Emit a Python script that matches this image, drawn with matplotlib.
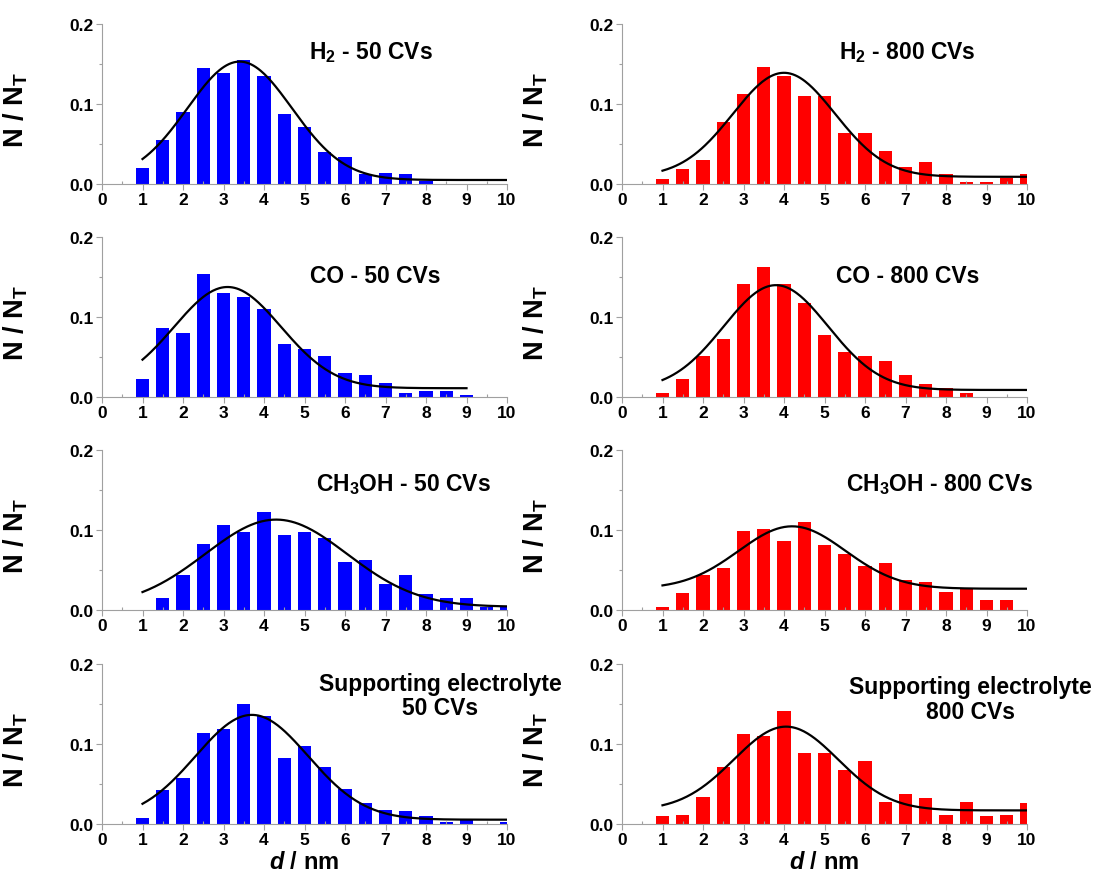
import numpy as np
import matplotlib
matplotlib.use("Agg")
import matplotlib.pyplot as plt
from matplotlib.ticker import MultipleLocator, FixedLocator

plt.rcParams['font.family'] = ['Liberation Sans', 'DejaVu Sans']
plt.rcParams['font.weight'] = 'bold'
plt.rcParams['mathtext.fontset'] = 'custom'
plt.rcParams['mathtext.rm'] = 'Liberation Sans:bold'
plt.rcParams['mathtext.bf'] = 'Liberation Sans:bold'
plt.rcParams['mathtext.it'] = 'Liberation Sans:italic:bold'

# particle diameter bins (nm)
d_bins = [1.0, 1.5, 2.0, 2.5, 3.0, 3.5, 4.0, 4.5, 5.0, 5.5, 6.0, 6.5,
          7.0, 7.5, 8.0, 8.5, 9.0, 9.5, 10.0]

# N / N_T histograms
h2_50 = [0.020, 0.055, 0.090, 0.145, 0.139, 0.155, 0.135, 0.0875, 0.071,
         0.040, 0.034, 0.012, 0.014, 0.013, 0.004]
h2_800 = [0.006, 0.019, 0.030, 0.078, 0.1125, 0.146, 0.135, 0.110, 0.110,
          0.064, 0.064, 0.041, 0.021, 0.0275, 0.012, 0.003, 0.003, 0.008, 0.012]
co_50 = [0.023, 0.086, 0.080, 0.154, 0.130, 0.125, 0.110, 0.066, 0.060,
         0.051, 0.030, 0.0275, 0.017, 0.005, 0.008, 0.008, 0.002]
co_800 = [0.005, 0.0225, 0.051, 0.0725, 0.141, 0.162, 0.141, 0.118, 0.078,
          0.056, 0.051, 0.045, 0.0275, 0.016, 0.011, 0.005]
meoh_50 = [0.0, 0.0154, 0.0436, 0.082, 0.106, 0.098, 0.122, 0.094, 0.098,
           0.090, 0.060, 0.062, 0.032, 0.0436, 0.020, 0.0154, 0.0154, 0.004, 0.004]
meoh_800 = [0.004, 0.0216, 0.0436, 0.0527, 0.099, 0.1017, 0.086, 0.110, 0.081,
            0.070, 0.055, 0.059, 0.037, 0.035, 0.022, 0.0266, 0.013, 0.013]
se_50 = [0.008, 0.042, 0.057, 0.114, 0.119, 0.150, 0.135, 0.082, 0.098,
         0.071, 0.044, 0.0267, 0.018, 0.016, 0.010, 0.002, 0.0046, 0.0, 0.002]
se_800 = [0.010, 0.0117, 0.034, 0.071, 0.112, 0.110, 0.141, 0.089, 0.089,
          0.067, 0.079, 0.028, 0.038, 0.032, 0.0117, 0.028, 0.010, 0.0117, 0.026]

# Gaussian fits: baseline y0, centre xc, amplitude A, sigma, fit range end
fit_y0 = [0.005, 0.009, 0.011, 0.0088, 0.004, 0.0266, 0.0054, 0.017]
fit_xc = [3.4, 4.0, 3.1, 3.8, 4.3, 4.2, 3.7, 4.05]
fit_A = [0.148, 0.130, 0.1265, 0.131, 0.109, 0.078, 0.131, 0.1047]
fit_sigma = [1.29, 1.26, 1.32, 1.29, 1.75, 1.32, 1.39, 1.29]
fit_end = [10, 10, 9, 10, 10, 10, 10, 10]

titles = [[r'H$_{\mathbf{2}}$ - 50 CVs'], [r'H$_{\mathbf{2}}$ - 800 CVs'],
          ['CO - 50 CVs'], ['CO - 800 CVs'],
          [r'CH$_{\mathbf{3}}$OH - 50 CVs'], [r'CH$_{\mathbf{3}}$OH - 800 CVs'],
          ['Supporting electrolyte', '50 CVs'],
          ['Supporting electrolyte', '800 CVs']]
series = [h2_50, h2_800, co_50, co_800, meoh_50, meoh_800, se_50, se_800]
colors = ['#0000ff', '#ff0000']

W, H = 1093, 878
fig = plt.figure(figsize=(W / 100, H / 100), dpi=100)

col_left = [102, 622]
row_top = [25, 238, 451, 665]
ax_w, ax_h = 405, 160
title_pos = [(0.665, 0.825), (0.705, 0.825), (0.675, 0.76), (0.705, 0.76),
             (0.745, 0.79), (0.785, 0.79), (0.835, 0.88), (0.86, 0.86)]
line_step = 0.155

spine_col = '#a0a0a0'
for i, vals in enumerate(series):
    r, c = divmod(i, 2)
    left = col_left[c] / W
    bottom = 1 - (row_top[r] + ax_h) / H
    ax = fig.add_axes([left, bottom, ax_w / W, ax_h / H])
    ax.bar(d_bins[:len(vals)], vals, width=0.33, color=colors[c], linewidth=0)
    xf = np.linspace(1, fit_end[i], 300)
    yf = fit_y0[i] + fit_A[i] * np.exp(-(xf - fit_xc[i]) ** 2 / (2 * fit_sigma[i] ** 2))
    ax.plot(xf, yf, color='black', lw=1.6)
    ax.set_xlim(0, 10)
    ax.set_ylim(0, 0.2)
    ax.xaxis.set_major_locator(MultipleLocator(1))
    ax.xaxis.set_minor_locator(MultipleLocator(0.5))
    ax.yaxis.set_major_locator(FixedLocator([0.0, 0.1, 0.2]))
    ax.yaxis.set_minor_locator(FixedLocator([0.05, 0.15]))
    ax.set_yticklabels(['0.0', '0.1', '0.2'])
    for s in ['top', 'right']:
        ax.spines[s].set_visible(False)
    for s in ['left', 'bottom']:
        ax.spines[s].set_color(spine_col)
        ax.spines[s].set_linewidth(0.8)
    ax.tick_params(axis='both', which='major', length=4, width=0.8,
                   color=spine_col, labelsize=12.5, pad=2)
    ax.tick_params(axis='both', which='minor', length=2.5, width=0.8,
                   color=spine_col)
    ax.tick_params(axis='x', which='minor', direction='in')
    for lab in ax.get_xticklabels() + ax.get_yticklabels():
        lab.set_fontweight('bold')
    ax.set_ylabel(r'N / N$_{\mathbf{T}}$', fontsize=19.5, fontweight='bold')
    ax.yaxis.set_label_coords(-0.178, 0.47)
    tx, ty = title_pos[i]
    for k, line in enumerate(titles[i]):
        ax.text(tx, ty - k * line_step, line, transform=ax.transAxes,
                ha='center', va='center', fontsize=16.5, fontweight='bold',
                clip_on=False)
    if r == 3:
        ax.set_xlabel(r'$\mathit{d}$ / nm', fontsize=17, fontweight='bold', labelpad=2)

fig.savefig('out.png', dpi=100)
